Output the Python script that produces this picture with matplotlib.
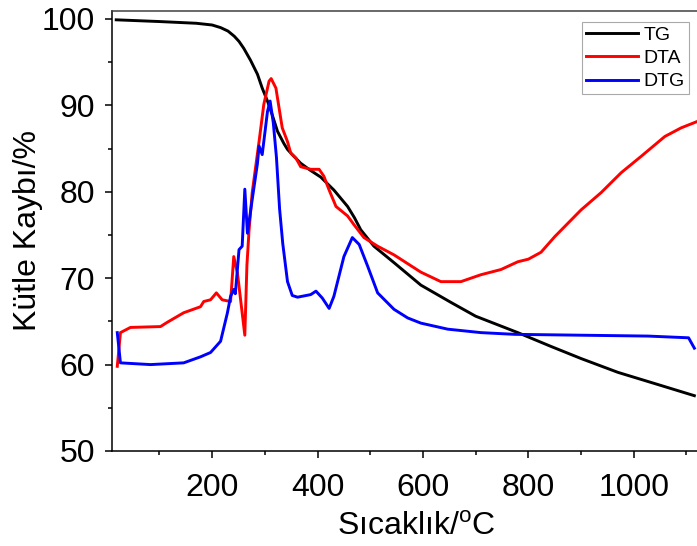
import numpy as np
import matplotlib
matplotlib.use("Agg")
import matplotlib.pyplot as plt
from matplotlib.ticker import MultipleLocator

plt.rcParams["font.family"] = ["Liberation Sans", "DejaVu Sans"]
plt.rcParams["mathtext.fontset"] = "custom"
plt.rcParams["mathtext.rm"] = "Liberation Sans"

# TG curve (mass %)
tg_x = [18, 100, 170, 200, 216, 230, 242, 251, 260, 273, 286, 295, 305, 314, 324, 336, 343, 352,
        368, 386, 406, 431, 457, 470, 482, 507, 545, 596, 653, 700, 780, 843, 900, 970, 1040, 1115]
tg_y = [99.9, 99.7, 99.5, 99.3, 99.0, 98.6, 98.0, 97.4, 96.6, 95.2, 93.6, 92.0, 90.5, 88.9, 87.0, 85.6, 84.9, 84.3,
        83.3, 82.5, 81.7, 80.2, 78.3, 77.0, 75.6, 73.7, 71.8, 69.2, 67.2, 65.6, 63.7, 62.1, 60.7, 59.1, 57.8, 56.4]

# DTA curve
dta_x = [20, 26, 45, 102, 115, 146, 178, 184, 197, 208, 219, 235, 241, 248, 262, 266, 270,
         276, 289, 298, 308, 312, 321, 327, 333, 343, 349, 359, 368, 387, 403, 412, 422, 435,
         457, 469, 488, 514, 545, 596, 634, 672, 710, 748, 780, 800, 824, 850, 900, 938, 976,
         1014, 1059, 1090, 1119]
dta_y = [59.8, 63.7, 64.3, 64.4, 64.9, 66.0, 66.7, 67.3, 67.5, 68.3, 67.5, 67.3, 72.5, 70.6, 63.4, 71.5, 75.5,
         79.9, 85.8, 90.1, 92.8, 93.1, 92.0, 89.7, 87.4, 85.8, 84.5, 83.9, 82.9, 82.6, 82.6, 81.8, 80.2, 78.3,
         77.2, 76.2, 74.7, 73.7, 72.7, 70.7, 69.6, 69.6, 70.4, 71.0, 71.9, 72.2, 73.0, 74.8, 77.9, 79.9, 82.2,
         84.1, 86.4, 87.4, 88.1]

# DTG curve
dtg_x = [20, 26, 83, 146, 178, 197, 216, 229, 235, 241, 244, 251, 257, 262, 267, 276, 286, 289,
         295, 305, 310, 316, 322, 328, 334, 343, 352, 362, 387, 397, 409, 422, 431, 450, 466,
         479, 495, 514, 545, 571, 596, 647, 710, 774, 900, 1027, 1104, 1115]
dtg_y = [63.7, 60.2, 60.0, 60.2, 60.9, 61.4, 62.7, 66.0, 67.9, 68.7, 68.2, 73.3, 73.7, 80.3, 75.2, 79.1, 83.3, 85.3,
         84.3, 89.3, 90.5, 88.0, 84.0, 78.0, 74.0, 69.6, 68.0, 67.8, 68.1, 68.5, 67.7, 66.5, 67.9, 72.5, 74.7,
         73.9, 71.4, 68.3, 66.4, 65.4, 64.8, 64.1, 63.7, 63.5, 63.4, 63.3, 63.1, 61.9]

fig = plt.figure(figsize=(6.97, 5.46), dpi=100)
ax = fig.add_axes([0.1607, 0.174, 0.8393, 0.806])

ax.plot(tg_x, tg_y, color="black", lw=2.1, label="TG")
ax.plot(dta_x, dta_y, color="#ff0000", lw=2.1, label="DTA")
ax.plot(dtg_x, dtg_y, color="#0000ff", lw=2.1, label="DTG")

ax.set_xlim(10, 1120)
ax.set_ylim(50, 100.93)
ax.set_xticks([200, 400, 600, 800, 1000])
ax.xaxis.set_minor_locator(MultipleLocator(100))
ax.yaxis.set_major_locator(MultipleLocator(10))
ax.yaxis.set_minor_locator(MultipleLocator(5))
ax.tick_params(which="major", length=5, width=1.1, labelsize=23)
ax.tick_params(axis="x", which="major", pad=11)
ax.tick_params(axis="y", which="major", pad=7)
ax.tick_params(which="minor", length=3, width=1.1)
ax.spines["right"].set_visible(False)
for s in ["left", "bottom", "top"]:
    ax.spines[s].set_linewidth(1.1)
ax.spines["top"].set_color("#404040")

ax.set_xlabel("Sıcaklık/$^{\\mathrm{o}}$C", fontsize=23, labelpad=6, x=0.52)
ax.set_ylabel("Kütle Kaybı/%", fontsize=23, labelpad=-1)

leg = ax.legend(loc="upper right", bbox_to_anchor=(689 / 697, 1 - 22 / 546),
                bbox_transform=fig.transFigure, borderaxespad=0, fontsize=14,
                handlelength=2.7, handletextpad=0.3, labelspacing=0.3,
                borderpad=0.2, fancybox=False, framealpha=1)
leg.get_frame().set_edgecolor("#aaaaaa")
leg.get_frame().set_linewidth(0.8)

fig.savefig("out.png", dpi=100)
